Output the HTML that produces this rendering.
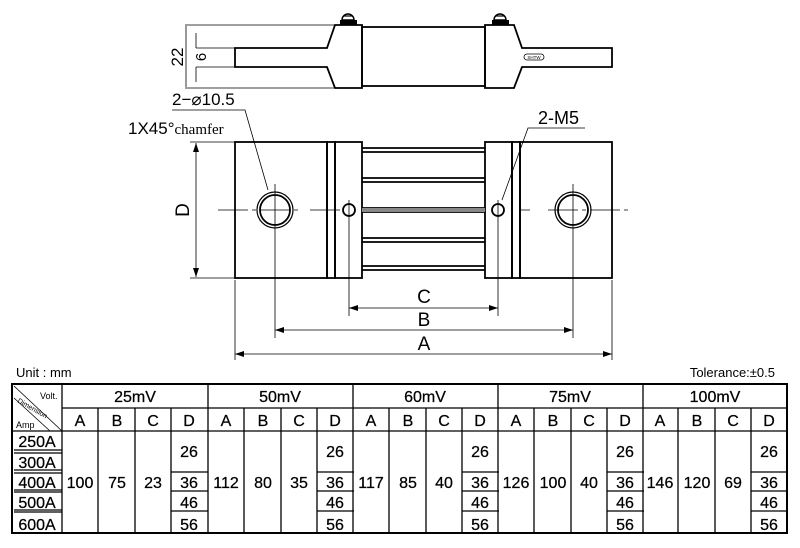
<!DOCTYPE html>
<html><head><meta charset="utf-8"><style>
html,body{margin:0;padding:0;background:#fff;}
svg{display:block;font-family:"Liberation Sans",sans-serif;}
</style></head><body>
<svg width="800" height="548" viewBox="0 0 800 548" xmlns="http://www.w3.org/2000/svg">
<g fill="none" stroke="#000" stroke-width="1.8">
<path d="M235,48 H327 L335,25 H362 V88 H335 L327,67 H235 Z"/>
<rect x="362" y="27" width="123" height="59"/>
<path d="M612,48 H522 L514,25 H485 V88 H514 L522,67 H612 Z"/>
</g>
<g fill="#000">
<rect x="340" y="20" width="17" height="5"/><path d="M342,20 A6,6 0 0 1 354,20 Z" fill="#fff" stroke="#000" stroke-width="1.5"/><path d="M343,16 H353" stroke="#000" stroke-width="1.2"/>
<rect x="492" y="20" width="17" height="5"/><path d="M494,20 A6,6 0 0 1 506,20 Z" fill="#fff" stroke="#000" stroke-width="1.5"/><path d="M495,16 H505" stroke="#000" stroke-width="1.2"/>
</g>
<rect x="524" y="54" width="20" height="6" rx="3" fill="none" stroke="#000" stroke-width="0.8"/>
<text x="534" y="59" font-size="4.5" text-anchor="middle">SHTW</text>
<g stroke="#000" stroke-width="0.8" fill="none">
<path d="M185,25 H335 M185,88 H335 M186,26 V87 M196,33 V48 M196,67 V82 M196,48 H235 M196,67 H235"/>
</g>
<text x="183" y="57" font-size="17" transform="rotate(-90 183 57)" text-anchor="middle">22</text>
<text x="206" y="57" font-size="15" transform="rotate(-90 206 57)" text-anchor="middle">6</text>
<text x="172" y="105" font-size="17">2−⌀10.5</text>
<path d="M172,110 H245 L268,190" stroke="#000" stroke-width="0.8" fill="none"/>
<text x="128" y="134" font-size="17">1X45°<tspan font-family="Liberation Serif" font-size="15">chamfer</tspan></text>
<text x="538" y="124" font-size="18">2-M5</text>
<path d="M585,128 H528 L502,200" stroke="#000" stroke-width="0.8" fill="none"/>
<g fill="none" stroke="#000" stroke-width="1.8">
<rect x="235" y="142" width="92" height="136"/>
<rect x="327" y="142" width="8" height="136"/>
<rect x="335" y="142" width="27" height="136"/>
<rect x="485" y="142" width="27" height="136"/>
<rect x="512" y="142" width="8" height="136"/>
<rect x="520" y="142" width="92" height="136"/>
<path d="M362,148 H485 M362,152 H485 M362,178 H485 M362,182 H485 M362,208 H485 M362,212 H485 M362,238 H485 M362,242 H485 M362,266 H485 M362,270 H485"/>
<circle cx="275" cy="210" r="18" stroke-width="1.2"/><circle cx="275" cy="210" r="15"/>
<circle cx="573" cy="210" r="18" stroke-width="1.2"/><circle cx="573" cy="210" r="15"/>
<circle cx="349" cy="210" r="6"/><circle cx="498" cy="210" r="6"/>
</g>
<rect x="362" y="208" width="123" height="4" fill="#888"/>
<g stroke="#000" stroke-width="0.8" fill="none">
<path d="M218,210 H300 M310,210 H340 M520,210 H530 M548,210 H628" stroke-dasharray="30,4,4,4"/>
<path d="M275,184 V338 M573,184 V338 M349,200 V316 M498,200 V316 M235,280 V360 M612,280 V360 M190,142 H235 M190,278 H235 M196,143 V277"/>
<path d="M349,308 H498 M275,330 H573 M235,354 H612"/>
</g>
<g fill="#000">
<path d="M196,143 l-3,9 h6z M196,277 l-3,-9 h6z M349,308 l9,-3 v6z M498,308 l-9,-3 v6z M275,330 l9,-3 v6z M573,330 l-9,-3 v6z M235,354 l9,-3 v6z M612,354 l-9,-3 v6z"/>
</g>
<text x="189" y="210" font-size="19" transform="rotate(-90 189 210)" text-anchor="middle">D</text>
<text x="424" y="303" font-size="19" text-anchor="middle">C</text>
<text x="424" y="326" font-size="19" text-anchor="middle">B</text>
<text x="424" y="350" font-size="19" text-anchor="middle">A</text>
<text x="16" y="377" font-size="13">Unit : mm</text>
<text x="775" y="377" font-size="13" text-anchor="end">Tolerance:±0.5</text>
<g stroke="#000" fill="none">
<rect x="12" y="384" width="775" height="149" stroke-width="2"/>
<path d="M62,408 H787 M12,431 H787" stroke-width="1.3"/>
<path d="M62,384 V533 M208,384 V533 M353,384 V533 M498,384 V533 M643,384 V533" stroke-width="1.3"/>
<path d="M14,386 L62,431 M14,398 L50,431" stroke-width="0.8"/>
<path d="M14,450 H62 M14,453 H62 M14,470 H62 M14,473 H62 M14,490 H62 M14,492 H62 M14,510 H62 M14,512 H62" stroke-width="1.2"/>
</g>
<text x="40" y="399" font-size="9">Volt.</text>
<text x="16" y="428" font-size="9">Amp</text>
<text x="17" y="402" font-size="7" transform="rotate(30 17 402)">Dimension</text>
<g font-size="16" text-anchor="middle" stroke="#000" stroke-width="0.25">
<text x="37" y="447">250A</text><text x="37" y="468">300A</text><text x="37" y="488">400A</text><text x="37" y="508">500A</text><text x="37" y="530">600A</text>
</g>
<defs>
<g id="grp">
<g stroke="#000" stroke-width="1.3" fill="none">
<path d="M36,408 V533 M73,408 V533 M109,408 V533 M109,472 H146 M109,491 H146 M109,511 H146"/>
</g>
<g font-size="16" text-anchor="middle" stroke="#000" stroke-width="0.25">
<text x="18" y="426">A</text><text x="55" y="426">B</text><text x="91" y="426">C</text><text x="127" y="426">D</text>
<text x="127" y="457">26</text><text x="127" y="488">36</text><text x="127" y="508">46</text><text x="127" y="530">56</text>
</g>
</g>
</defs>
<use href="#grp" x="62"/><use href="#grp" x="208"/><use href="#grp" x="353"/><use href="#grp" x="498"/><use href="#grp" x="642"/>
<g font-size="16" text-anchor="middle" stroke="#000" stroke-width="0.25">
<text x="135" y="402">25mV</text><text x="280" y="402">50mV</text><text x="425" y="402">60mV</text><text x="570" y="402">75mV</text><text x="715" y="402">100mV</text>
<text x="80" y="488">100</text><text x="117" y="488">75</text><text x="153" y="488">23</text>
<text x="226" y="488">112</text><text x="263" y="488">80</text><text x="299" y="488">35</text>
<text x="371" y="488">117</text><text x="408" y="488">85</text><text x="444" y="488">40</text>
<text x="516" y="488">126</text><text x="553" y="488">100</text><text x="589" y="488">40</text>
<text x="660" y="488">146</text><text x="697" y="488">120</text><text x="733" y="488">69</text>
</g>
</svg>
</body></html>
